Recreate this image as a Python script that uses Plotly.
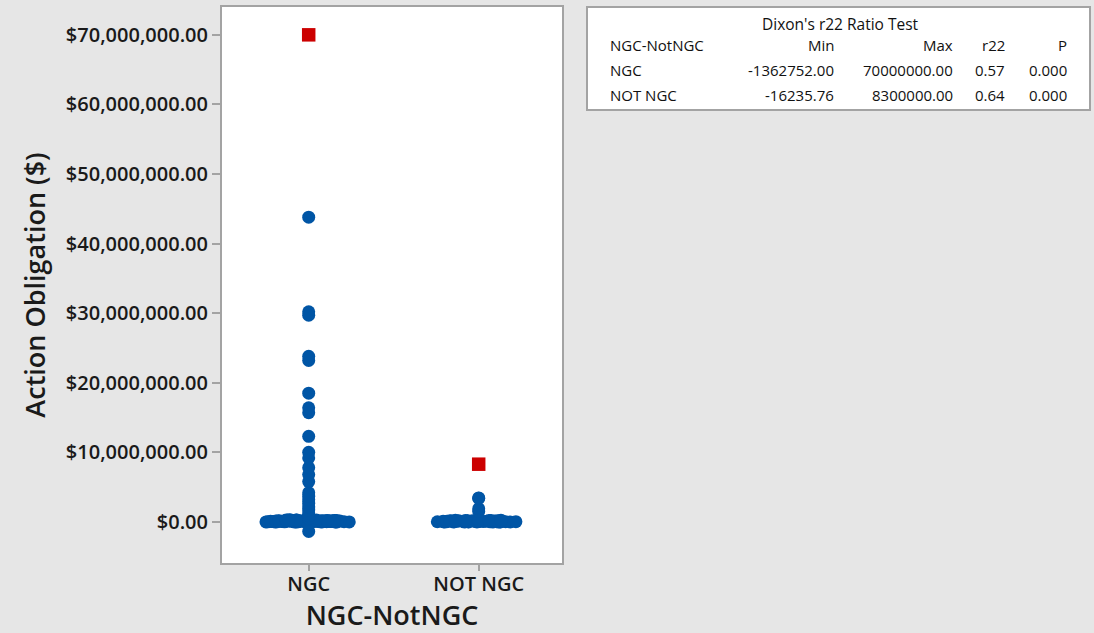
import plotly.graph_objects as go

# ---------------- data ----------------
categories = ["NGC", "NOT NGC"]

# values clustered at ~$0 (drawn as jittered row)
ngc_row = [0, 0, 1200, 2500, 4000, 6000, 8500, 9800, 12000, 13500, 15000, 17000, 19500,
           21000, 24200, 26000, 28500, 31000, 33500, 35500, 39000, 41000, 42800, 46000,
           48500, 50000, 53500, 55000, 57200, 61000, 63000, 64500, 68000, 70000, 72500,
           75800, 78000, 79000, 83500, 85000, 87000, 90500, 92000, 94800, 98000, 100000,
           102000, 105500, 109000, 113200, 117000, 120500, 124000, 125000, 128800, 132000,
           135500, 139000, 143500, 147000, 150000, 154000, 158200, 162000, 165500, 169000,
           173500, 177000, 180500, 184800, 188000, 192000, 195500, 199000, 203500, 210000,
           218200, 225000, 233500, 240500, 248000, 255500, 263500, 270500, 278200, 285500,
           293500, 300000]
notngc_row = [-16235.76, -5000, 0, 0, 1500, 3800, 6500, 9000, 12500, 15000, 18800, 21000,
              24500, 28000, 31500, 35000, 38200, 42000, 45500, 49000, 52500, 56000, 60000,
              63500, 67000, 71000, 75000, 78500, 82000, 86500, 90000, 95000, 99500, 104000,
              108000, 113000, 118000, 122500, 127000, 132000, 138000, 144000, 150000, 157000,
              164000, 171000, 179000, 188000, 197000, 205000, 215000, 225000, 240000, 250000]

# values spread above/below zero (drawn at the category centre)
ngc_column = [-1362752, 500000, 900000, 1300000, 1700000, 2200000, 2700000, 3200000,
              3700000, 4200000, 5800000, 6800000, 7800000, 9200000, 10000000, 12300000,
              15700000, 16400000, 18500000, 23200000, 23800000, 29700000, 30200000, 43800000]
notngc_column = [1500000, 1900000, 3400000, 3450000]

# Dixon's r22 outliers
outlier_groups = ["NGC", "NOT NGC"]
outlier_values = [70000000, 8300000]

# test table
table_title = "Dixon's r22 Ratio Test"
table_header = ["NGC-NotNGC", "Min", "Max", "r22", "P"]
table_groups = ["NGC", "NOT NGC"]
table_min = ["-1362752.00", "-16235.76"]
table_max = ["70000000.00", "8300000.00"]
table_r22 = ["0.57", "0.64"]
table_p = ["0.000", "0.000"]

y_tickvals = [0, 10000000, 20000000, 30000000, 40000000, 50000000, 60000000, 70000000]

# ---------------- style ----------------
BLUE = "#0055a5"
RED = "#cc0000"
FONT = "Open Sans"
TXT = "#1a1a1a"
W, H = 1094, 633
ML, MR, MT, MB = 222, 532, 7, 70

fig = go.Figure()

for cat, vals, wd in [("NGC", ngc_row, 0.64), ("NOT NGC", notngc_row, 0.58)]:
    fig.add_trace(go.Box(
        x=[cat] * len(vals), y=vals,
        boxpoints="all", jitter=1, pointpos=0, width=wd,
        fillcolor="rgba(0,0,0,0)", line=dict(color="rgba(0,0,0,0)", width=0),
        whiskerwidth=0,
        marker=dict(color=BLUE, size=13, line=dict(width=0)),
        hoverinfo="y", showlegend=False,
    ))
fig.add_trace(go.Scatter(
    x=["NGC"] * len(ngc_column) + ["NOT NGC"] * len(notngc_column),
    y=ngc_column + notngc_column,
    mode="markers", marker=dict(color=BLUE, size=13, line=dict(width=0)),
    showlegend=False,
))
fig.add_trace(go.Scatter(
    x=outlier_groups, y=outlier_values, mode="markers",
    marker=dict(color=RED, size=13.5, symbol="square", line=dict(width=0)),
    showlegend=False,
))

fig.update_xaxes(
    type="category", categoryorder="array", categoryarray=categories,
    range=[-0.51, 1.49], showline=True, linecolor="#a3a3a3", linewidth=2, mirror=True,
    ticks="outside", ticklen=6, tickcolor="#a3a3a3", tickwidth=1.5,
    ticklabelstandoff=-4,
    showgrid=False, zeroline=False,
    tickfont=dict(family=FONT, size=20, color=TXT, weight=600),
    title=dict(text="NGC-NotNGC", font=dict(family=FONT, size=27, color=TXT, weight=600), standoff=6),
)
fig.update_yaxes(
    range=[-5900000, 74000000], tickvals=y_tickvals, tickformat="$,.2f",
    showline=True, linecolor="#a3a3a3", linewidth=2, mirror=True,
    ticks="outside", ticklen=8, tickcolor="#a3a3a3", tickwidth=1.5,
    showgrid=False, zeroline=False,
    tickfont=dict(family=FONT, size=20, color=TXT, weight=600),
    title=dict(text="Action Obligation ($)", font=dict(family=FONT, size=27, color=TXT, weight=600), standoff=12),
)

pw = W - ML - MR
ph = H - MT - MB


def px(x):
    return (x - ML) / pw


def py(y):
    return (H - MB - y) / ph


# table box
fig.add_shape(type="rect", xref="paper", yref="paper",
              x0=px(587), x1=px(1090), y0=py(110), y1=py(7),
              line=dict(color="#a3a3a3", width=2), fillcolor="white", layer="below")

tf = dict(family=FONT, size=15, color="#111111", weight=500)
fig.add_annotation(text=table_title, xref="paper", yref="paper", x=px(840), y=py(24),
                   xanchor="center", yanchor="middle", showarrow=False,
                   font=dict(family=FONT, size=15.5, color="#111111", weight=500))
col_right = [None, 836, 955, 1007, 1069]
row_y = [45, 70, 95]
fig.add_annotation(text=table_header[0], xref="paper", yref="paper", x=px(608), y=py(row_y[0]),
                   xanchor="left", yanchor="middle", showarrow=False, font=tf)
for j in range(1, 5):
    fig.add_annotation(text=table_header[j], xref="paper", yref="paper", x=px(col_right[j]),
                       y=py(row_y[0]), xanchor="right", yanchor="middle", showarrow=False, font=tf)
for i, g in enumerate(table_groups):
    yy = py(row_y[i + 1])
    fig.add_annotation(text=g, xref="paper", yref="paper", x=px(608), y=yy,
                       xanchor="left", yanchor="middle", showarrow=False, font=tf)
    for j, col in enumerate([table_min, table_max, table_r22, table_p]):
        fig.add_annotation(text=col[i], xref="paper", yref="paper", x=px(col_right[j + 1]), y=yy,
                           xanchor="right", yanchor="middle", showarrow=False, font=tf)

fig.update_layout(
    width=W, height=H,
    margin=dict(l=ML, r=MR, t=MT, b=MB, autoexpand=False),
    paper_bgcolor="#e6e6e6", plot_bgcolor="white",
    showlegend=False, font=dict(family=FONT, color=TXT),
)

fig.write_html("out.html", config={"displayModeBar": False},
               post_script="document.body.style.margin='0';document.body.style.padding='0';"
                           "document.documentElement.style.overflow='hidden';")
